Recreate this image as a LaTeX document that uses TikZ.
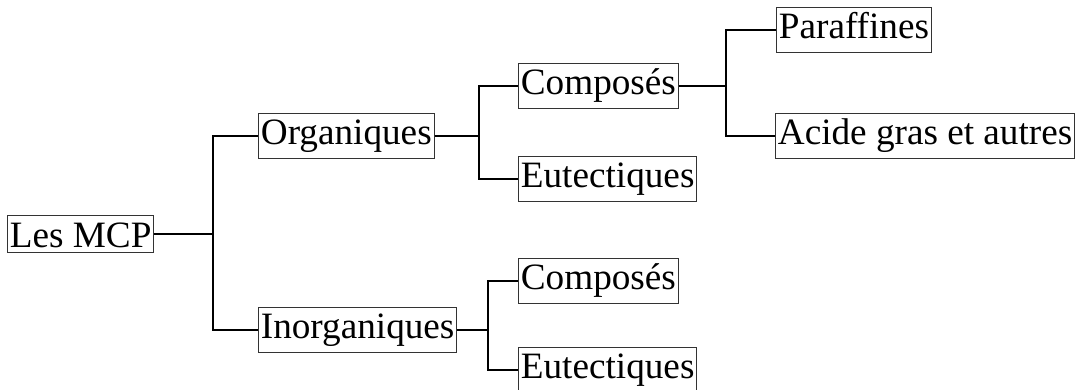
\documentclass[tikz,border=0pt]{standalone}
\usepackage{fontspec}
\setmainfont{Liberation Serif}
\begin{document}
\begin{tikzpicture}[x=0.5pt,y=-0.5pt,
 box/.style={draw=black!80,line width=0.5pt,inner xsep=1.2pt,inner ysep=2.7pt,text height=13pt,text depth=4.1pt,anchor=west,font=\fontsize{18.6}{22}\selectfont},
 link/.style={line width=0.9pt}]
 \useasboundingbox (0,0) rectangle (1075,390);
 % boxes
 \node[box,text depth=0pt] (mcp) at (7,234) {Les MCP};
 \node[box] (org) at (258,136) {Organiques};
 \node[box] (inorg) at (258,330) {Inorganiques};
 \node[box] (comp1) at (518,86) {Composés};
 \node[box] (eut1) at (518,179) {Eutectiques};
 \node[box] (comp2) at (518,281) {Composés};
 \node[box] (eut2) at (518,370) {Eutectiques};
 \node[box] (par) at (776,30) {Paraffines};
 \node[box] (acide) at (775,136) {Acide gras et autres};
 % branch points
 \coordinate (j1) at (213,234);
 \coordinate (j2) at (479,136);
 \coordinate (j3) at (488,330);
 \coordinate (j4) at (726,86);
 % links
 \draw[link] (mcp.east) -- (j1) |- (org.west);
 \draw[link] (j1) |- (inorg.west);
 \draw[link] (org.east) -- (j2) |- (comp1.west);
 \draw[link] (j2) |- (eut1.west);
 \draw[link] (inorg.east) -- (j3) |- (comp2.west);
 \draw[link] (j3) |- (eut2.west);
 \draw[link] (comp1.east) -- (j4) |- (par.west);
 \draw[link] (j4) |- (acide.west);
\end{tikzpicture}
\end{document}
